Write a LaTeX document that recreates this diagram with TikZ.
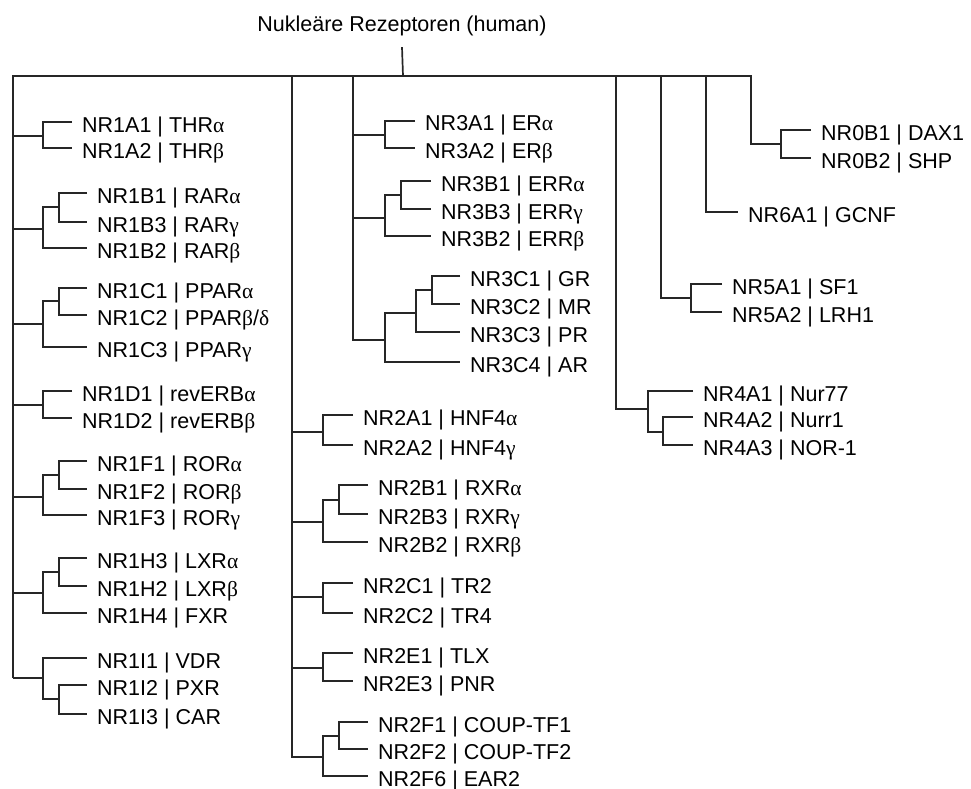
\documentclass[tikz,border=0pt]{standalone}
\usepackage{fontspec}
\setmainfont{Liberation Sans}
\newfontfamily\greekfont{Liberation Serif}
\newcommand{\grk}[1]{{\greekfont #1}}
\usepackage{tikz}

\tikzset{
  branch/.style={line width=1.7pt, draw=black!85, line join=miter},
  leaf/.style={anchor=west, inner xsep=10pt, inner ysep=0pt, text height=20pt, text depth=0pt,
    font=\fontsize{21.5}{26}\selectfont},
  headline/.style={anchor=base, inner ysep=10pt, text depth=5pt, font=\fontsize{21.5}{26}\selectfont}
}

\begin{document}
\begin{tikzpicture}[x=1pt, y=-1pt]
    \useasboundingbox (0,0) rectangle (971,789);

    % Title and root
    \node[headline] (title) at (402,32) {Nukleäre Rezeptoren (human)};
    \coordinate (top) at (403,76);
    \draw[branch] (title.south) -- (top);

    % Trunks of the families
    \coordinate (nr1) at (13,76);
    \coordinate (nr2) at (292,76);
    \coordinate (nr3) at (353,76);
    \coordinate (nr4) at (616,76);
    \coordinate (nr5) at (661,76);
    \coordinate (nr6) at (706,76);
    \coordinate (nr0) at (751,76);

    % Family NR1
    \node[leaf] (nr1a1) at (72,122) {NR1A1 | THR\grk{α}};
    \node[leaf] (nr1a2) at (72,148) {NR1A2 | THR\grk{β}};
    \node[leaf] (nr1b1) at (87,193) {NR1B1 | RAR\grk{α}};
    \node[leaf] (nr1b3) at (87,222) {NR1B3 | RAR\grk{γ}};
    \node[leaf] (nr1b2) at (87,248) {NR1B2 | RAR\grk{β}};
    \node[leaf] (nr1c1) at (87,288) {NR1C1 | PPAR\grk{α}};
    \node[leaf] (nr1c2) at (87,315) {NR1C2 | PPAR\grk{β}/\grk{δ}};
    \node[leaf] (nr1c3) at (87,347) {NR1C3 | PPAR\grk{γ}};
    \node[leaf] (nr1d1) at (72,391) {NR1D1 | revERB\grk{α}};
    \node[leaf] (nr1d2) at (72,418) {NR1D2 | revERB\grk{β}};
    \node[leaf] (nr1f1) at (87,461) {NR1F1 | ROR\grk{α}};
    \node[leaf] (nr1f2) at (87,489) {NR1F2 | ROR\grk{β}};
    \node[leaf] (nr1f3) at (87,515) {NR1F3 | ROR\grk{γ}};
    \node[leaf] (nr1h3) at (87,558) {NR1H3 | LXR\grk{α}};
    \node[leaf] (nr1h2) at (87,586) {NR1H2 | LXR\grk{β}};
    \node[leaf] (nr1h4) at (87,613) {NR1H4 | FXR};
    \node[leaf] (nr1i1) at (87,658) {NR1I1 | VDR};
    \node[leaf] (nr1i2) at (87,685) {NR1I2 | PXR};
    \node[leaf] (nr1i3) at (87,714) {NR1I3 | CAR};

    \coordinate (j1a) at (43,136);
    \coordinate (s1b) at (59,207);
    \coordinate (j1b) at (43,229);
    \coordinate (s1c) at (59,301);
    \coordinate (j1c) at (43,324);
    \coordinate (j1d) at (43,405);
    \coordinate (s1f) at (59,475);
    \coordinate (j1f) at (43,497);
    \coordinate (s1h) at (59,572);
    \coordinate (j1h) at (43,593);
    \coordinate (j1i) at (43,678);
    \coordinate (s1i) at (59,699);

    % Draw trunk, top line and NR0 trunk in one go
    \draw[branch] (nr1 |- j1i) -- (nr1) -- (nr0) |- (781,144) coordinate (j0b);
    \foreach \g in {a,b,c,d,f,h,i}
        \draw[branch] (nr1 |- j1\g) -- (j1\g);

    \draw[branch] (nr1a1) -| (j1a) |- (nr1a2);
    \draw[branch] (nr1b1) -| (s1b) |- (nr1b3);
    \draw[branch] (s1b) -| (j1b) |- (nr1b2);
    \draw[branch] (nr1c1) -| (s1c) |- (nr1c2);
    \draw[branch] (s1c) -| (j1c) |- (nr1c3);
    \draw[branch] (nr1d1) -| (j1d) |- (nr1d2);
    \draw[branch] (nr1f1) -| (s1f) |- (nr1f2);
    \draw[branch] (s1f) -| (j1f) |- (nr1f3);
    \draw[branch] (nr1h3) -| (s1h) |- (nr1h2);
    \draw[branch] (s1h) -| (j1h) |- (nr1h4);
    \draw[branch] (nr1i1) -| (j1i) |- (s1i);
    \draw[branch] (nr1i2) -| (s1i) |- (nr1i3);

    % Family NR2
    \node[leaf] (nr2a1) at (353,415) {NR2A1 | HNF4\grk{α}};
    \node[leaf] (nr2a2) at (353,445) {NR2A2 | HNF4\grk{γ}};
    \node[leaf] (nr2b1) at (368,485) {NR2B1 | RXR\grk{α}};
    \node[leaf] (nr2b3) at (368,514) {NR2B3 | RXR\grk{γ}};
    \node[leaf] (nr2b2) at (368,542) {NR2B2 | RXR\grk{β}};
    \node[leaf] (nr2c1) at (353,583) {NR2C1 | TR2};
    \node[leaf] (nr2c2) at (353,613) {NR2C2 | TR4};
    \node[leaf] (nr2e1) at (353,653) {NR2E1 | TLX};
    \node[leaf] (nr2e3) at (353,681) {NR2E3 | PNR};
    \node[leaf] (nr2f1) at (368,722) {NR2F1 | COUP-TF1};
    \node[leaf] (nr2f2) at (368,749) {NR2F2 | COUP-TF2};
    \node[leaf] (nr2f6) at (368,776) {NR2F6 | EAR2};

    \coordinate (j2a) at (323,432);
    \coordinate (s2b) at (339,500);
    \coordinate (j2b) at (323,522);
    \coordinate (j2c) at (323,597);
    \coordinate (j2e) at (323,668);
    \coordinate (s2f) at (339,736);
    \coordinate (j2f) at (323,757);

    \draw[branch] (nr2) |- (j2f);
    \foreach \g in {a,b,c,e}
        \draw[branch] (nr2 |- j2\g) -- (j2\g);

    \draw[branch] (nr2a1) -| (j2a) |- (nr2a2);
    \draw[branch] (nr2b1) -| (s2b) |- (nr2b3);
    \draw[branch] (s2b) -| (j2b) |- (nr2b2);
    \draw[branch] (nr2c1) -| (j2c) |- (nr2c2);
    \draw[branch] (nr2e1) -| (j2e) |- (nr2e3);
    \draw[branch] (nr2f1) -| (s2f) |- (nr2f2);
    \draw[branch] (s2f) -| (j2f) |- (nr2f6);

    % Family NR3
    \node[leaf] (nr3a1) at (415,121) {NR3A1 | ER\grk{α}};
    \node[leaf] (nr3a2) at (415,148) {NR3A2 | ER\grk{β}};
    \node[leaf] (nr3b1) at (431,181) {NR3B1 | ERR\grk{α}};
    \node[leaf] (nr3b3) at (431,209) {NR3B3 | ERR\grk{γ}};
    \node[leaf] (nr3b2) at (431,236) {NR3B2 | ERR\grk{β}};
    \node[leaf] (nr3c1) at (460,276) {NR3C1 | GR};
    \node[leaf] (nr3c2) at (460,304) {NR3C2 | MR};
    \node[leaf] (nr3c3) at (460,332) {NR3C3 | PR};
    \node[leaf] (nr3c4) at (460,362) {NR3C4 | AR};

    \coordinate (j3a) at (385,135);
    \coordinate (s3b) at (401,195);
    \coordinate (j3b) at (385,218);
    \coordinate (t3c) at (432,290);
    \coordinate (s3c) at (416,313);
    \coordinate (j3c) at (385,340);

    \draw[branch] (nr3) |- (j3c);
    \foreach \g in {a,b}
        \draw[branch] (nr3 |- j3\g) -- (j3\g);

    \draw[branch] (nr3a1) -| (j3a) |- (nr3a2);
    \draw[branch] (nr3b1) -| (s3b) |- (nr3b3);
    \draw[branch] (s3b) -| (j3b) |- (nr3b2);
    \draw[branch] (nr3c1) -| (t3c) |- (nr3c2);
    \draw[branch] (t3c) -| (s3c) |- (nr3c3);
    \draw[branch] (s3c) -| (j3c) |- (nr3c4);

    % Family NR4
    \node[leaf] (nr4a1) at (693,391) {NR4A1 | Nur77};
    \node[leaf] (nr4a2) at (693,417) {NR4A2 | Nurr1};
    \node[leaf] (nr4a3) at (693,445) {NR4A3 | NOR-1};

    \coordinate (j4a) at (648,409);
    \coordinate (s4a) at (663,432);

    \draw[branch] (nr4) |- (j4a);
    \draw[branch] (nr4a1) -| (j4a) |- (s4a);
    \draw[branch] (nr4a2) -| (s4a) |- (nr4a3);

    % Family NR5
    \node[leaf] (nr5a1) at (722,284) {NR5A1 | SF1};
    \node[leaf] (nr5a2) at (722,312) {NR5A2 | LRH1};

    \coordinate (j5a) at (691,298);

    \draw[branch] (nr5) |- (j5a);
    \draw[branch] (nr5a1) -| (j5a) |- (nr5a2);

    % Family NR6
    \node[leaf] (nr6a1) at (738,212) {NR6A1 | GCNF};
    \draw[branch] (nr6) |- (nr6a1);

    % Family NR0
    \node[leaf] (nr0b1) at (811,130) {NR0B1 | DAX1};
    \node[leaf] (nr0b2) at (811,158) {NR0B2 | SHP};
    \draw[branch] (nr0b1) -| (j0b) |- (nr0b2);
\end{tikzpicture}
\end{document}
